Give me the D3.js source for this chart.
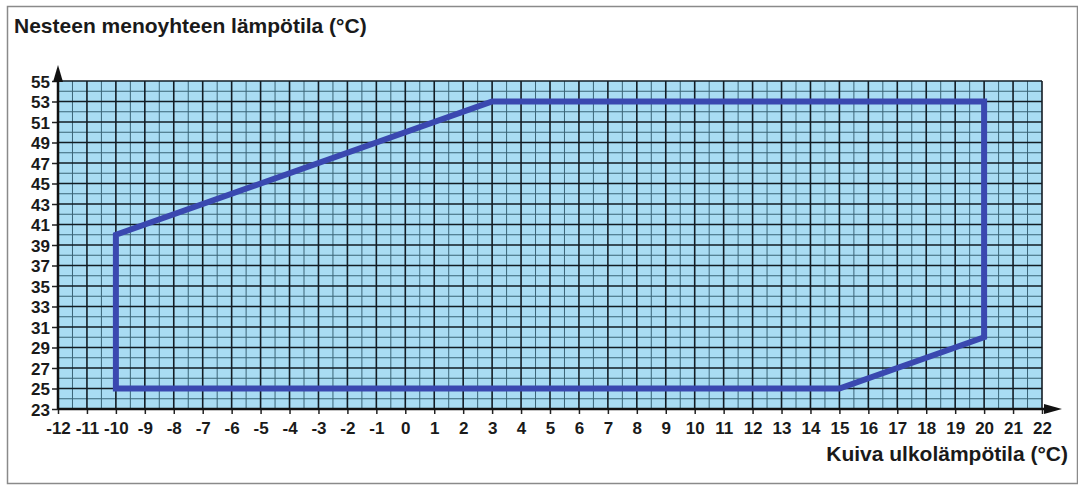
<!DOCTYPE html>
<html>
<head>
<meta charset="utf-8">
<script src="https://cdn.jsdelivr.net/npm/d3@7"></script>
<style>
  body { margin: 0; background: #fff; }
  svg text { font-family: Arial, "Liberation Sans", sans-serif; font-weight: bold; fill: #1a1a1a; }
</style>
</head>
<body>
<svg width="1078" height="487"></svg>
<script>
// outdoor temperature ticks (x) and flow temperature ticks (y)
var xTicks = [-12,-11,-10,-9,-8,-7,-6,-5,-4,-3,-2,-1,0,1,2,3,4,5,6,7,8,9,10,11,12,13,14,15,16,17,18,19,20,21,22];
var yTicks = [23,25,27,29,31,33,35,37,39,41,43,45,47,49,51,53,55];

// operating envelope corners
var envX = [-10, 3, 20, 20, 15, -10];
var envY = [40, 53, 53, 30, 25, 25];

var margin = {left:58, right:36, top:81, bottom:78};
var width = 1078, height = 487;

var svg = d3.select("svg");

// outer frame
svg.append("rect")
    .attr("x", 7.5).attr("y", 6.5)
    .attr("width", 1070).attr("height", 477)
    .attr("fill", "none").attr("stroke", "#8a8a8a").attr("stroke-width", 1.5);

var x = d3.scaleLinear().domain([-12, 22]).range([margin.left, width - margin.right]);
var y = d3.scaleLinear().domain([23, 55]).range([height - margin.bottom, margin.top]);

// background
svg.append("rect")
    .attr("x", x(-12)).attr("y", y(55))
    .attr("width", x(22) - x(-12)).attr("height", y(23) - y(55))
    .attr("fill", "#a9dcf3");

// minor grid: half degrees on x, even values on y
var grid = svg.append("g");
var minorX = xTicks.slice(0, -1).map(function(d) { return d + 0.5; });
var minorY = yTicks.slice(0, -1).map(function(d) { return d + 1; });

grid.selectAll("line.mx").data(minorX).enter().append("line")
    .attr("x1", function(d) { return x(d); }).attr("x2", function(d) { return x(d); })
    .attr("y1", y(23)).attr("y2", y(55))
    .attr("stroke", "#3a6477").attr("stroke-width", 1);
grid.selectAll("line.my").data(minorY).enter().append("line")
    .attr("y1", function(d) { return y(d); }).attr("y2", function(d) { return y(d); })
    .attr("x1", x(-12)).attr("x2", x(22))
    .attr("stroke", "#3a6477").attr("stroke-width", 1);

// major grid
grid.selectAll("line.MX").data(xTicks).enter().append("line")
    .attr("x1", function(d) { return x(d); }).attr("x2", function(d) { return x(d); })
    .attr("y1", y(23)).attr("y2", y(55))
    .attr("stroke", "#121c24").attr("stroke-width", 1.6);
grid.selectAll("line.MY").data(yTicks).enter().append("line")
    .attr("y1", function(d) { return y(d); }).attr("y2", function(d) { return y(d); })
    .attr("x1", x(-12)).attr("x2", x(22))
    .attr("stroke", "#121c24").attr("stroke-width", 1.6);

// envelope
var pts = envX.map(function(d, i) { return [x(d), y(envY[i])]; });
svg.append("path")
    .attr("d", d3.line()(pts) + "Z")
    .attr("fill", "none")
    .attr("stroke", "#3a48b0")
    .attr("stroke-width", 6)
    .attr("stroke-linejoin", "miter");

// axes
var xAxis = svg.append("g")
    .attr("transform", "translate(0," + y(23) + ")")
    .call(d3.axisBottom(x).tickValues(xTicks).tickSize(5).tickPadding(9).tickFormat(function(d) { return String(d); }));
var yAxis = svg.append("g")
    .attr("transform", "translate(" + x(-12) + ",0)")
    .call(d3.axisLeft(y).tickValues(yTicks).tickSize(6).tickPadding(2).tickFormat(function(d) { return String(d); }));

[xAxis, yAxis].forEach(function(a) {
  a.select(".domain").remove();
  a.selectAll(".tick line").attr("stroke", "#222").attr("stroke-width", 1.5);
  a.selectAll(".tick text").style("font-size", "17px").style("font-family", "Arial, 'Liberation Sans', sans-serif")
      .style("font-weight", "bold").attr("fill", "#1a1a1a");
});
xAxis.selectAll(".tick text").attr("dy", "0.64em");
yAxis.selectAll(".tick text").attr("dy", "0.36em");

// axis lines with arrowheads
svg.append("line")
    .attr("x1", x(-12)).attr("x2", x(-12)).attr("y1", y(23)).attr("y2", y(55) - 4)
    .attr("stroke", "#111").attr("stroke-width", 2.5);
svg.append("line")
    .attr("x1", x(-12)).attr("x2", x(22) + 10).attr("y1", y(23)).attr("y2", y(23))
    .attr("stroke", "#111").attr("stroke-width", 2.5);
svg.append("path")
    .attr("d", "M" + (x(-12) - 5) + "," + (y(55) + 1) + "L" + x(-12) + "," + (y(55) - 16) + "L" + (x(-12) + 5) + "," + (y(55) + 1) + "Z")
    .attr("fill", "#111");
svg.append("path")
    .attr("d", "M" + (x(22) + 2) + "," + (y(23) - 5) + "L" + (x(22) + 20) + "," + y(23) + "L" + (x(22) + 2) + "," + (y(23) + 5) + "Z")
    .attr("fill", "#111");

// titles
svg.append("text")
    .attr("x", 14).attr("y", 33)
    .style("font-size", "21px")
    .text("Nesteen menoyhteen lämpötila (°C)");
svg.append("text")
    .attr("x", 1068).attr("y", 461)
    .attr("text-anchor", "end")
    .style("font-size", "21px")
    .text("Kuiva ulkolämpötila (°C)");
</script>
</body>
</html>
